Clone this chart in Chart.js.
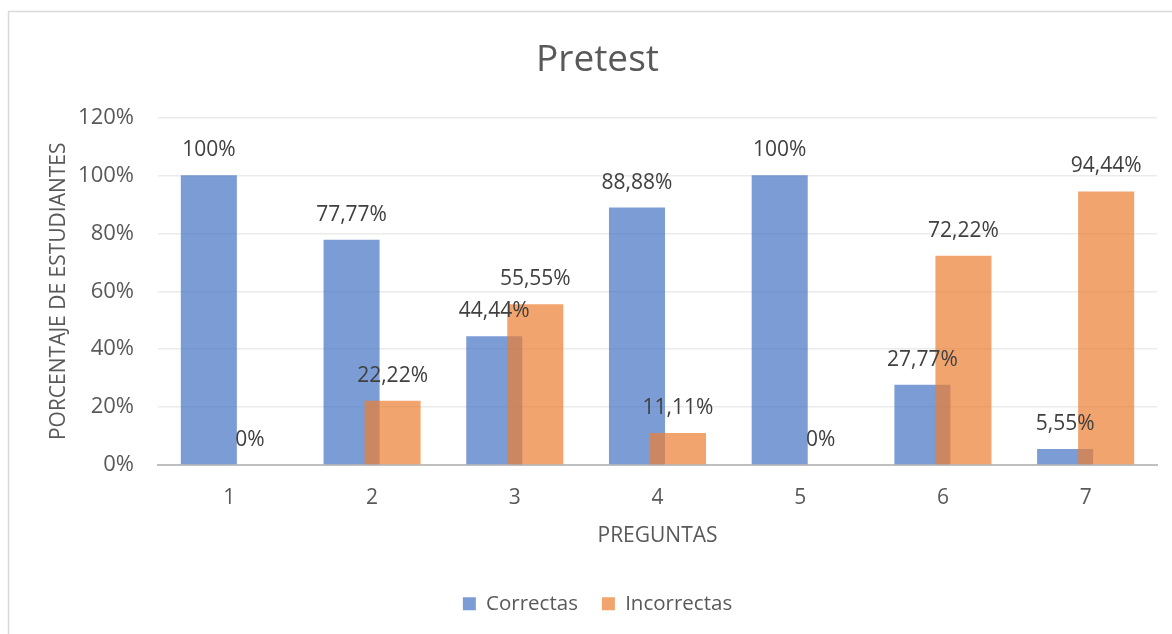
<!DOCTYPE html>
<html>
<head>
<meta charset="utf-8">
<script src="https://cdn.jsdelivr.net/npm/chart.js@4"></script>
<style>
  html, body { margin: 0; padding: 0; background: #fff; }
  #wrap { width: 1172px; height: 634px; position: relative; }
</style>
</head>
<body>
<div id="wrap"><canvas id="c" width="1172" height="634"></canvas></div>
<script>
const categories = ['1', '2', '3', '4', '5', '6', '7'];
const correctas = [100, 77.77, 44.44, 88.88, 100, 27.77, 5.55];
const incorrectas = [0, 22.22, 55.55, 11.11, 0, 72.22, 94.44];
const yTicks = [0, 20, 40, 60, 80, 100, 120];
const seriesNames = ['Correctas', 'Incorrectas'];
const titleText = 'Pretest';
const xTitle = 'PREGUNTAS';
const yTitle = 'PORCENTAJE DE ESTUDIANTES';

const FONT = "'Open Sans', 'Noto Sans', sans-serif";
Chart.defaults.font.family = FONT;
Chart.defaults.color = '#595959';

function fmt(v) { return String(v).replace('.', ',') + '%'; }

const borderPlugin = {
  id: 'outerBorder',
  beforeDraw(chart) {
    const ctx = chart.ctx;
    ctx.save();
    ctx.fillStyle = '#fff';
    ctx.fillRect(0, 0, chart.width, chart.height);
    ctx.strokeStyle = '#d9d9d9';
    ctx.lineWidth = 1.5;
    ctx.strokeRect(8.5, 11.5, chart.width + 20, chart.height + 20);
    ctx.restore();
  }
};

// draw the second series (Incorrectas) on top of the first, as in the reference
const orderPlugin = {
  id: 'drawOrder',
  beforeDatasetDraw(chart, args) {
    if (args.index === 1 && !chart.$drawingTop) return false;
  },
  afterDatasetDraw(chart, args) {
    if (args.index === 0) {
      const meta = chart.getDatasetMeta(1);
      if (meta.hidden) return;
      chart.$drawingTop = true;
      meta.controller.draw();
      chart.$drawingTop = false;
    }
  }
};

const labelPlugin = {
  id: 'valueLabels',
  afterDatasetsDraw(chart) {
    const ctx = chart.ctx;
    ctx.save();
    ctx.font = '21px ' + FONT;
    ctx.fillStyle = '#404040';
    ctx.textAlign = 'center';
    ctx.textBaseline = 'middle';
    chart.data.datasets.forEach((ds, di) => {
      const meta = chart.getDatasetMeta(di);
      meta.data.forEach((bar, i) => {
        ctx.fillText(fmt(ds.data[i]), bar.x, bar.y - 25);
      });
    });
    ctx.restore();
  }
};

new Chart(document.getElementById('c'), {
  type: 'bar',
  data: {
    labels: categories,
    datasets: [
      { label: seriesNames[0], data: correctas, backgroundColor: 'rgba(68,114,196,0.7)', borderWidth: 0 },
      { label: seriesNames[1], data: incorrectas, backgroundColor: 'rgba(237,125,49,0.7)', borderWidth: 0 }
    ]
  },
  options: {
    responsive: false,
    animation: false,
    devicePixelRatio: 1,
    categoryPercentage: 0.575,
    barPercentage: 1.366,
    layout: { padding: { left: 38, right: 15, top: 0, bottom: 10 } },
    plugins: {
      title: {
        display: true,
        text: titleText,
        color: '#595959',
        font: { size: 37, weight: 'normal' },
        padding: { top: 38, bottom: 35 }
      },
      legend: {
        position: 'bottom',
        labels: {
          boxWidth: 13, boxHeight: 13,
          color: '#595959',
          font: { size: 20.5 },
          padding: 24
        }
      },
      tooltip: { enabled: false }
    },
    scales: {
      x: {
        grid: { display: false, drawTicks: false },
        border: { color: '#bfbfbf', width: 2 },
        ticks: { color: '#595959', font: { size: 21 }, padding: 20 },
        title: { display: true, text: xTitle, color: '#595959', font: { size: 21 }, padding: { top: -7, bottom: 21 } }
      },
      y: {
        min: 0, max: 120,
        afterBuildTicks(axis) { axis.ticks = yTicks.map(v => ({ value: v })); },
        afterFit(axis) { axis.width = 120; },
        grid: { color: '#ebebeb', lineWidth: 1.5, drawTicks: false },
        border: { display: false },
        ticks: { color: '#595959', font: { size: 22 }, padding: 24, callback: v => v + '%' },
        title: { display: true, text: yTitle, color: '#595959', font: { size: 21 }, padding: { top: 8, bottom: 0 } }
      }
    }
  },
  plugins: [borderPlugin, orderPlugin, labelPlugin]
});
</script>
</body>
</html>
